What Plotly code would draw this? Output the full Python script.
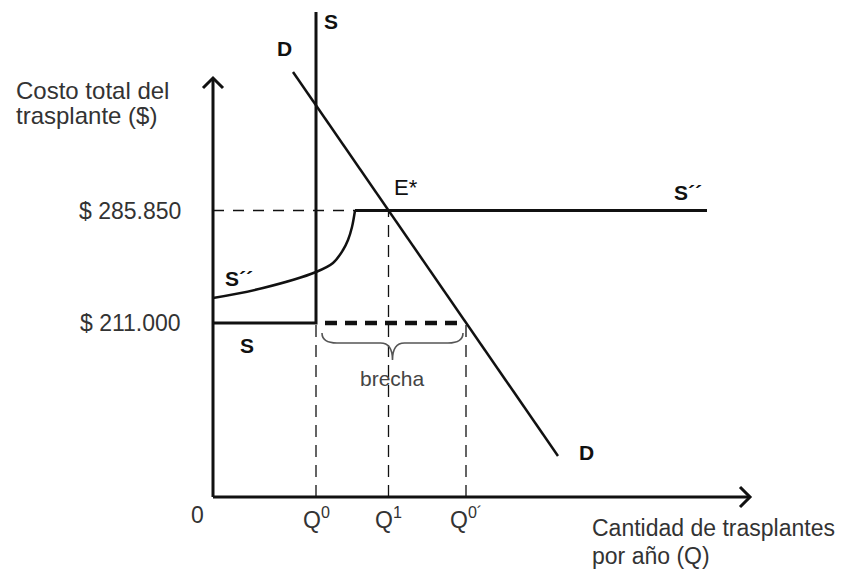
import plotly.graph_objects as go

# schematic units: 1 unit on each axis is about 10 px on the page
# price levels ($ 211.000 and $ 285.850)
price_low = 17.4
price_high = 28.65
price_labels = ["$ 211.000", "$ 285.850"]

# quantities on the horizontal axis
q_values = [10.3, 17.55, 25.3]
q_labels = ["Q<sup>0</sup>", "Q<sup>1</sup>", "Q<sup>0´</sup>"]

# demand line D (two end points)
demand_x = [8.0, 34.5]
demand_y = [42.5, 4.1]

# original supply S: flat at the low price, then vertical at Q0
supply_x = [0.0, 10.3, 10.3]
supply_y = [17.4, 17.4, 48.5]

# new supply S'' (curved part then flat at the high price)
s2_curve_x = [0.0, 5.0, 10.3, 12.0, 13.0, 13.5, 13.9, 14.2]
s2_curve_y = [19.9, 20.9, 22.5, 23.4, 24.7, 25.7, 27.0, 28.65]
s2_flat_x = [14.2, 49.4]

# gap ("brecha") between Q0 and Q0'
gap_x = [11.2, 24.7]

# axis lengths
x_axis_end = 53.7
y_axis_end = 41.9

FONT = "Liberation Sans, Arial, sans-serif"
INK = "#111111"

fig = go.Figure()


def add_line(x, y, width=2.5, dash="solid", color=INK, shape="linear"):
    fig.add_trace(go.Scatter(x=x, y=y, mode="lines",
                             line=dict(color=color, width=width, dash=dash, shape=shape),
                             hoverinfo="skip", showlegend=False))


# axes with open arrow heads
head = 1.0
add_line([0, 0], [0, y_axis_end], width=3)
add_line([0, x_axis_end], [0, 0], width=3)
add_line([-head, 0, head], [y_axis_end - head, y_axis_end, y_axis_end - head], width=3)
add_line([x_axis_end - head, x_axis_end, x_axis_end - head], [head, 0, -head], width=3)

# dashed guide lines
add_line([0, s2_flat_x[0]], [price_high, price_high], width=1.3, dash="11px,9px")
add_line([q_values[0], q_values[0]], [0, price_low], width=1.3, dash="12px,8px")
add_line([q_values[1], q_values[1]], [0, price_high], width=1.3, dash="12px,8px")
add_line([q_values[2], q_values[2]], [0, price_low], width=1.3, dash="12px,8px")

# thick dashed gap line
add_line(gap_x, [price_low, price_low], width=4.5, dash="12px,8px")

# curves
add_line(supply_x, supply_y, width=3)
add_line(demand_x, demand_y, width=2.5)
add_line(s2_curve_x, s2_curve_y, width=2.5, shape="spline")
add_line(s2_flat_x, [price_high, price_high], width=2.8)

# curly brace under the gap, built from Q0 and Q0'
bl, br = q_values[0] + 0.6, q_values[2] - 0.3
bm = (bl + br) / 2
top, mid, tip = price_low - 1.0, price_low - 2.0, price_low - 3.7
brace = (f"M {bl},{top} Q {bl},{mid} {bl + 1.5},{mid} L {bm - 1.2},{mid} "
         f"Q {bm},{mid} {bm},{tip} Q {bm},{mid} {bm + 1.2},{mid} "
         f"L {br - 1.5},{mid} Q {br},{mid} {br},{top}")
fig.add_shape(type="path", path=brace, xref="x", yref="y",
              line=dict(color="#555555", width=1.6))


def label(text, x, y, size=22, xanchor="center", color=INK, bold=False):
    if bold:
        text = "<b>" + text + "</b>"
    fig.add_annotation(x=x, y=y, text=text, showarrow=False, xanchor=xanchor,
                       align=xanchor if xanchor != "center" else "center",
                       yanchor="middle", font=dict(family=FONT, size=size, color=color))


label("S", 11.8, 47.6, size=21, bold=True)
label("D", 7.1, 44.9, size=21, bold=True)
label("S´´", 2.6, 21.9, size=21, bold=True)
label("S", 3.4, 15.2, size=21, bold=True)
label("E*", 19.3, 31.0, size=22)
label("S´´", 47.5, 30.5, size=21, bold=True)
label("D", 37.3, 4.5, size=21, bold=True)
label("brecha", 17.9, 11.9, size=21, color="#444444")

# tick labels
label("0", -1.6, -1.8, size=23, color="#333333")
for qv, qt in zip(q_values, q_labels):
    label(qt, qv, -2.1, size=23, color="#333333")
for pv, pt in zip([price_low, price_high], price_labels):
    label(pt, -3.0, pv, size=23, xanchor="right", color="#333333")

# axis titles
label("Costo total del", -19.9, 40.7, size=24, xanchor="left", color="#333333")
label("trasplante ($)", -19.9, 38.2, size=24, xanchor="left", color="#333333")
label("Cantidad de trasplantes", 37.7, -3.1, size=23, xanchor="left", color="#333333")
label("por año (Q)", 37.7, -5.9, size=23, xanchor="left", color="#333333")

# the page body adds an 8 px offset, so the ranges are shifted by 0.8 units
fig.update_layout(
    width=844, height=571,
    margin=dict(l=0, r=0, t=0, b=0),
    paper_bgcolor="white", plot_bgcolor="white",
    xaxis=dict(range=[-20.5, 63.9], visible=False, fixedrange=True),
    yaxis=dict(range=[-8.2, 48.9], visible=False, fixedrange=True),
    showlegend=False,
)

fig.write_html("out.html")
